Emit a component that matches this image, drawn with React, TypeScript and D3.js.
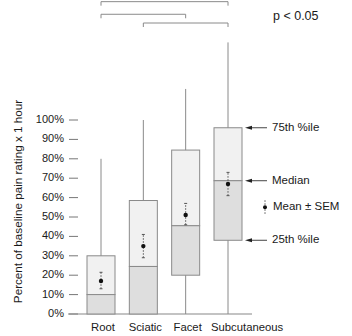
import React, { useEffect, useRef } from 'react';
import * as d3 from 'd3';

// Box plot values (fraction of baseline)
const categories = ['Root', 'Sciatic', 'Facet', 'Subcutaneous'];
const whiskerLow = [0, 0, 0, 0];
const q1 = [0, 0, 0.2, 0.38];
const median = [0.1, 0.245, 0.455, 0.687];
const q3 = [0.3, 0.585, 0.845, 0.96];
const whiskerHigh = [0.8, 1.0, 1.16, 1.4];
const mean = [0.17, 0.35, 0.51, 0.67];
const semLow = [0.13, 0.29, 0.46, 0.61];
const semHigh = [0.215, 0.41, 0.57, 0.73];

const yTicks = [0, 0.1, 0.2, 0.3, 0.4, 0.5, 0.6, 0.7, 0.8, 0.9, 1.0];

// significance brackets: [from, to, level]
const brackets: [number, number, number][] = [
  [0, 3, 1.61],
  [0, 2, 1.545],
  [1, 3, 1.5],
];

const FONT = 'Liberation Sans, Arial, Helvetica, sans-serif';

export default function App() {
  const svgRef = useRef<SVGSVGElement>(null);

  useEffect(() => {
    if (!svgRef.current) return;
    const svg = d3.select(svgRef.current);
    svg.selectAll('*').remove();

    const y = d3.scaleLinear().domain([0, 1]).range([314, 120]);
    const x = d3.scalePoint<string>().domain(categories).range([101, 228]);
    const boxW = 28;
    const ink = '#1a1a1a';
    const line = '#8a8a8a';

    // y ticks and labels
    const yAxis = svg.append('g');
    yTicks.forEach((t) => {
      yAxis
        .append('line')
        .attr('x1', 69)
        .attr('x2', 78)
        .attr('y1', y(t))
        .attr('y2', y(t))
        .attr('stroke', '#777')
        .attr('stroke-width', 1);
      yAxis
        .append('text')
        .attr('x', 64)
        .attr('y', y(t))
        .attr('text-anchor', 'end')
        .attr('dominant-baseline', 'middle')
        .attr('font-family', FONT)
        .attr('font-size', '11px')
        .attr('fill', ink)
        .text(`${Math.round(t * 100)}%`);
    });

    // baseline
    svg
      .append('line')
      .attr('x1', 68)
      .attr('x2', 252)
      .attr('y1', y(0))
      .attr('y2', y(0))
      .attr('stroke', '#888')
      .attr('stroke-width', 1.2);

    // y axis title
    svg
      .append('text')
      .attr('transform', `translate(19, ${y(0.58)}) rotate(-90)`)
      .attr('text-anchor', 'middle')
      .attr('dominant-baseline', 'middle')
      .attr('font-family', FONT)
      .attr('font-size', '11.7px')
      .attr('fill', ink)
      .text('Percent of baseline pain rating x 1 hour');

    categories.forEach((c, i) => {
      const cx = x(c)!;
      const g = svg.append('g');
      // whisker
      g.append('line')
        .attr('x1', cx)
        .attr('x2', cx)
        .attr('y1', y(whiskerLow[i]))
        .attr('y2', y(whiskerHigh[i]))
        .attr('stroke', line)
        .attr('stroke-width', 1);
      // upper part of box
      g.append('rect')
        .attr('x', cx - boxW / 2)
        .attr('y', y(q3[i]))
        .attr('width', boxW)
        .attr('height', y(median[i]) - y(q3[i]))
        .attr('fill', '#f1f1f1')
        .attr('stroke', line)
        .attr('stroke-width', 1);
      // lower part of box
      g.append('rect')
        .attr('x', cx - boxW / 2)
        .attr('y', y(median[i]))
        .attr('width', boxW)
        .attr('height', y(q1[i]) - y(median[i]))
        .attr('fill', '#dedede')
        .attr('stroke', line)
        .attr('stroke-width', 1);
      // mean ± SEM
      g.append('line')
        .attr('x1', cx)
        .attr('x2', cx)
        .attr('y1', y(semLow[i]))
        .attr('y2', y(semHigh[i]))
        .attr('stroke', '#555')
        .attr('stroke-width', 1)
        .attr('stroke-dasharray', '1.5,1.5');
      [semLow[i], semHigh[i]].forEach((v) => {
        g.append('line')
          .attr('x1', cx - 1.5)
          .attr('x2', cx + 1.5)
          .attr('y1', y(v))
          .attr('y2', y(v))
          .attr('stroke', '#555')
          .attr('stroke-width', 1);
      });
      g.append('circle')
        .attr('cx', cx)
        .attr('cy', y(mean[i]))
        .attr('r', 2.2)
        .attr('fill', '#111');
      // category label (last one is a long word set to the left edge of its box)
      const isLast = i === categories.length - 1;
      svg
        .append('text')
        .attr('x', isLast ? cx - boxW / 2 - 3 : cx + 2)
        .attr('y', 328)
        .attr('text-anchor', isLast ? 'start' : 'middle')
        .attr('dominant-baseline', 'middle')
        .attr('font-family', FONT)
        .attr('font-size', '11.3px')
        .attr('fill', ink)
        .text(c);
    });

    // significance brackets
    brackets.forEach(([a, b, lvl]) => {
      const x1 = x(categories[a])!;
      const x2 = x(categories[b])!;
      const yy = y(lvl);
      svg
        .append('path')
        .attr('d', `M${x1},${yy + 4}V${yy}H${x2}V${yy + 4}`)
        .attr('fill', 'none')
        .attr('stroke', '#8a8a8a')
        .attr('stroke-width', 1);
    });

    svg
      .append('text')
      .attr('x', 273)
      .attr('y', 17)
      .attr('dominant-baseline', 'middle')
      .attr('font-family', FONT)
      .attr('font-size', '12.5px')
      .attr('fill', ink)
      .text('p < 0.05');

    // legend annotations, pointing at the Subcutaneous box
    const last = categories.length - 1;
    const boxRight = x(categories[last])! + boxW / 2;
    const ann: [string, number][] = [
      ['75th %ile', q3[last]],
      ['Median', median[last]],
      ['25th %ile', q1[last]],
    ];
    ann.forEach(([label, v]) => {
      const yy = y(v);
      svg
        .append('line')
        .attr('x1', boxRight + 8)
        .attr('x2', boxRight + 25)
        .attr('y1', yy)
        .attr('y2', yy)
        .attr('stroke', '#444')
        .attr('stroke-width', 1);
      svg
        .append('path')
        .attr('d', `M${boxRight + 3},${yy}L${boxRight + 10},${yy - 2}L${boxRight + 10},${yy + 2}Z`)
        .attr('fill', '#222');
      svg
        .append('text')
        .attr('x', boxRight + 30)
        .attr('y', yy)
        .attr('dominant-baseline', 'middle')
        .attr('font-family', FONT)
        .attr('font-size', '11.5px')
        .attr('fill', ink)
        .text(label);
    });

    // mean ± SEM legend symbol
    const ly = y(0.55);
    const lx = boxRight + 23;
    svg
      .append('line')
      .attr('x1', lx)
      .attr('x2', lx)
      .attr('y1', ly - 7)
      .attr('y2', ly + 7)
      .attr('stroke', '#555')
      .attr('stroke-width', 1)
      .attr('stroke-dasharray', '1.5,1.5');
    svg.append('circle').attr('cx', lx).attr('cy', ly).attr('r', 2).attr('fill', '#111');
    svg
      .append('text')
      .attr('x', boxRight + 31)
      .attr('y', ly)
      .attr('dominant-baseline', 'middle')
      .attr('font-family', FONT)
      .attr('font-size', '11.5px')
      .attr('fill', ink)
      .text('Mean ± SEM');
  }, []);

  return (
    <svg
      ref={svgRef}
      width={352}
      height={336}
      style={{ position: 'absolute', left: 0, top: 0, background: '#fff' }}
    />
  );
}
